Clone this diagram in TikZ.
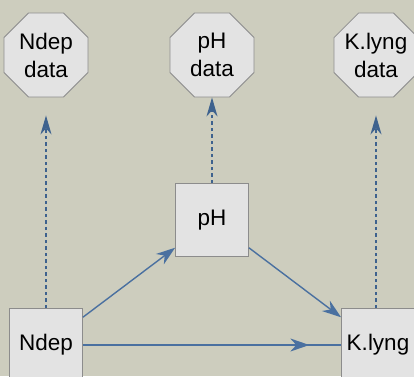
\documentclass[tikz,border=0pt]{standalone}
\usepackage{fontspec}
\setmainfont{Liberation Sans}
\usetikzlibrary{shapes.geometric,arrows.meta,decorations.markings}
\definecolor{bgkhaki}{RGB}{205,205,190}
\definecolor{nodegray}{RGB}{227,227,227}
\definecolor{edgegray}{RGB}{140,140,140}
\definecolor{linkblue}{RGB}{74,112,160}
\definecolor{dashblue}{RGB}{62,98,142}

\begin{document}
\begin{tikzpicture}[x=1pt, y=-1pt,
    every node/.style={font=\fontsize{22.5}{28}\selectfont},
    varbox/.style={draw=edgegray, fill=nodegray, line width=0.8pt, minimum size=73pt, inner sep=0pt},
    databox/.style={regular polygon, regular polygon sides=8, draw=edgegray, fill=nodegray, line width=0.8pt, minimum size=91pt, inner sep=0pt},
    datatext/.style={align=center, inner sep=0pt, font=\fontsize{22.5}{28}\selectfont},
    link/.style={draw=linkblue, line width=1.4pt, -{Stealth[length=19pt, width=13pt, inset=6pt]}},
    obslink/.style={draw=dashblue, line width=1.4pt, dash pattern=on 3.5pt off 3pt, -{Stealth[length=19pt, width=11pt, inset=6pt]}},
    midlink/.style={draw=linkblue, line width=1.4pt, postaction={decorate},
      decoration={markings, mark=at position 0.877 with {\arrow{Stealth[length=19pt, width=13pt, inset=6pt]}}}}]
  % background
  \fill[bgkhaki] (0,0) rectangle (414,376);
  \useasboundingbox (0,0) rectangle (414,376);

  % Draw data nodes
  \node[databox, label={[datatext]center:Ndep\\data}] (ndepdata) at (46,55) {};
  \node[databox, label={[datatext]center:pH\\data}] (phdata) at (212,55) {};
  \node[databox, label={[datatext]center:K.lyng\\data}] (klyngdata) at (376,55) {};

  % Draw variables
  \node[varbox] (ph) at (212,220) {pH};
  \node[varbox] (ndep) at (46,345) {Ndep};
  \node[varbox] (klyng) at (378,345) {K.lyng};

  % Observations
  \draw[obslink, shorten >=18pt] (ndep.north -| ndepdata.south) -- (ndepdata.south);
  \draw[obslink] (ph) -- (phdata);
  \draw[obslink, shorten >=18pt] (klyng.north -| klyngdata.south) -- (klyngdata.south);

  % Links
  \draw[link] (ndep) -- (ph);
  \draw[link] (ph) -- (klyng);
  \draw[midlink] (ndep) -- (klyng);
\end{tikzpicture}
\end{document}
